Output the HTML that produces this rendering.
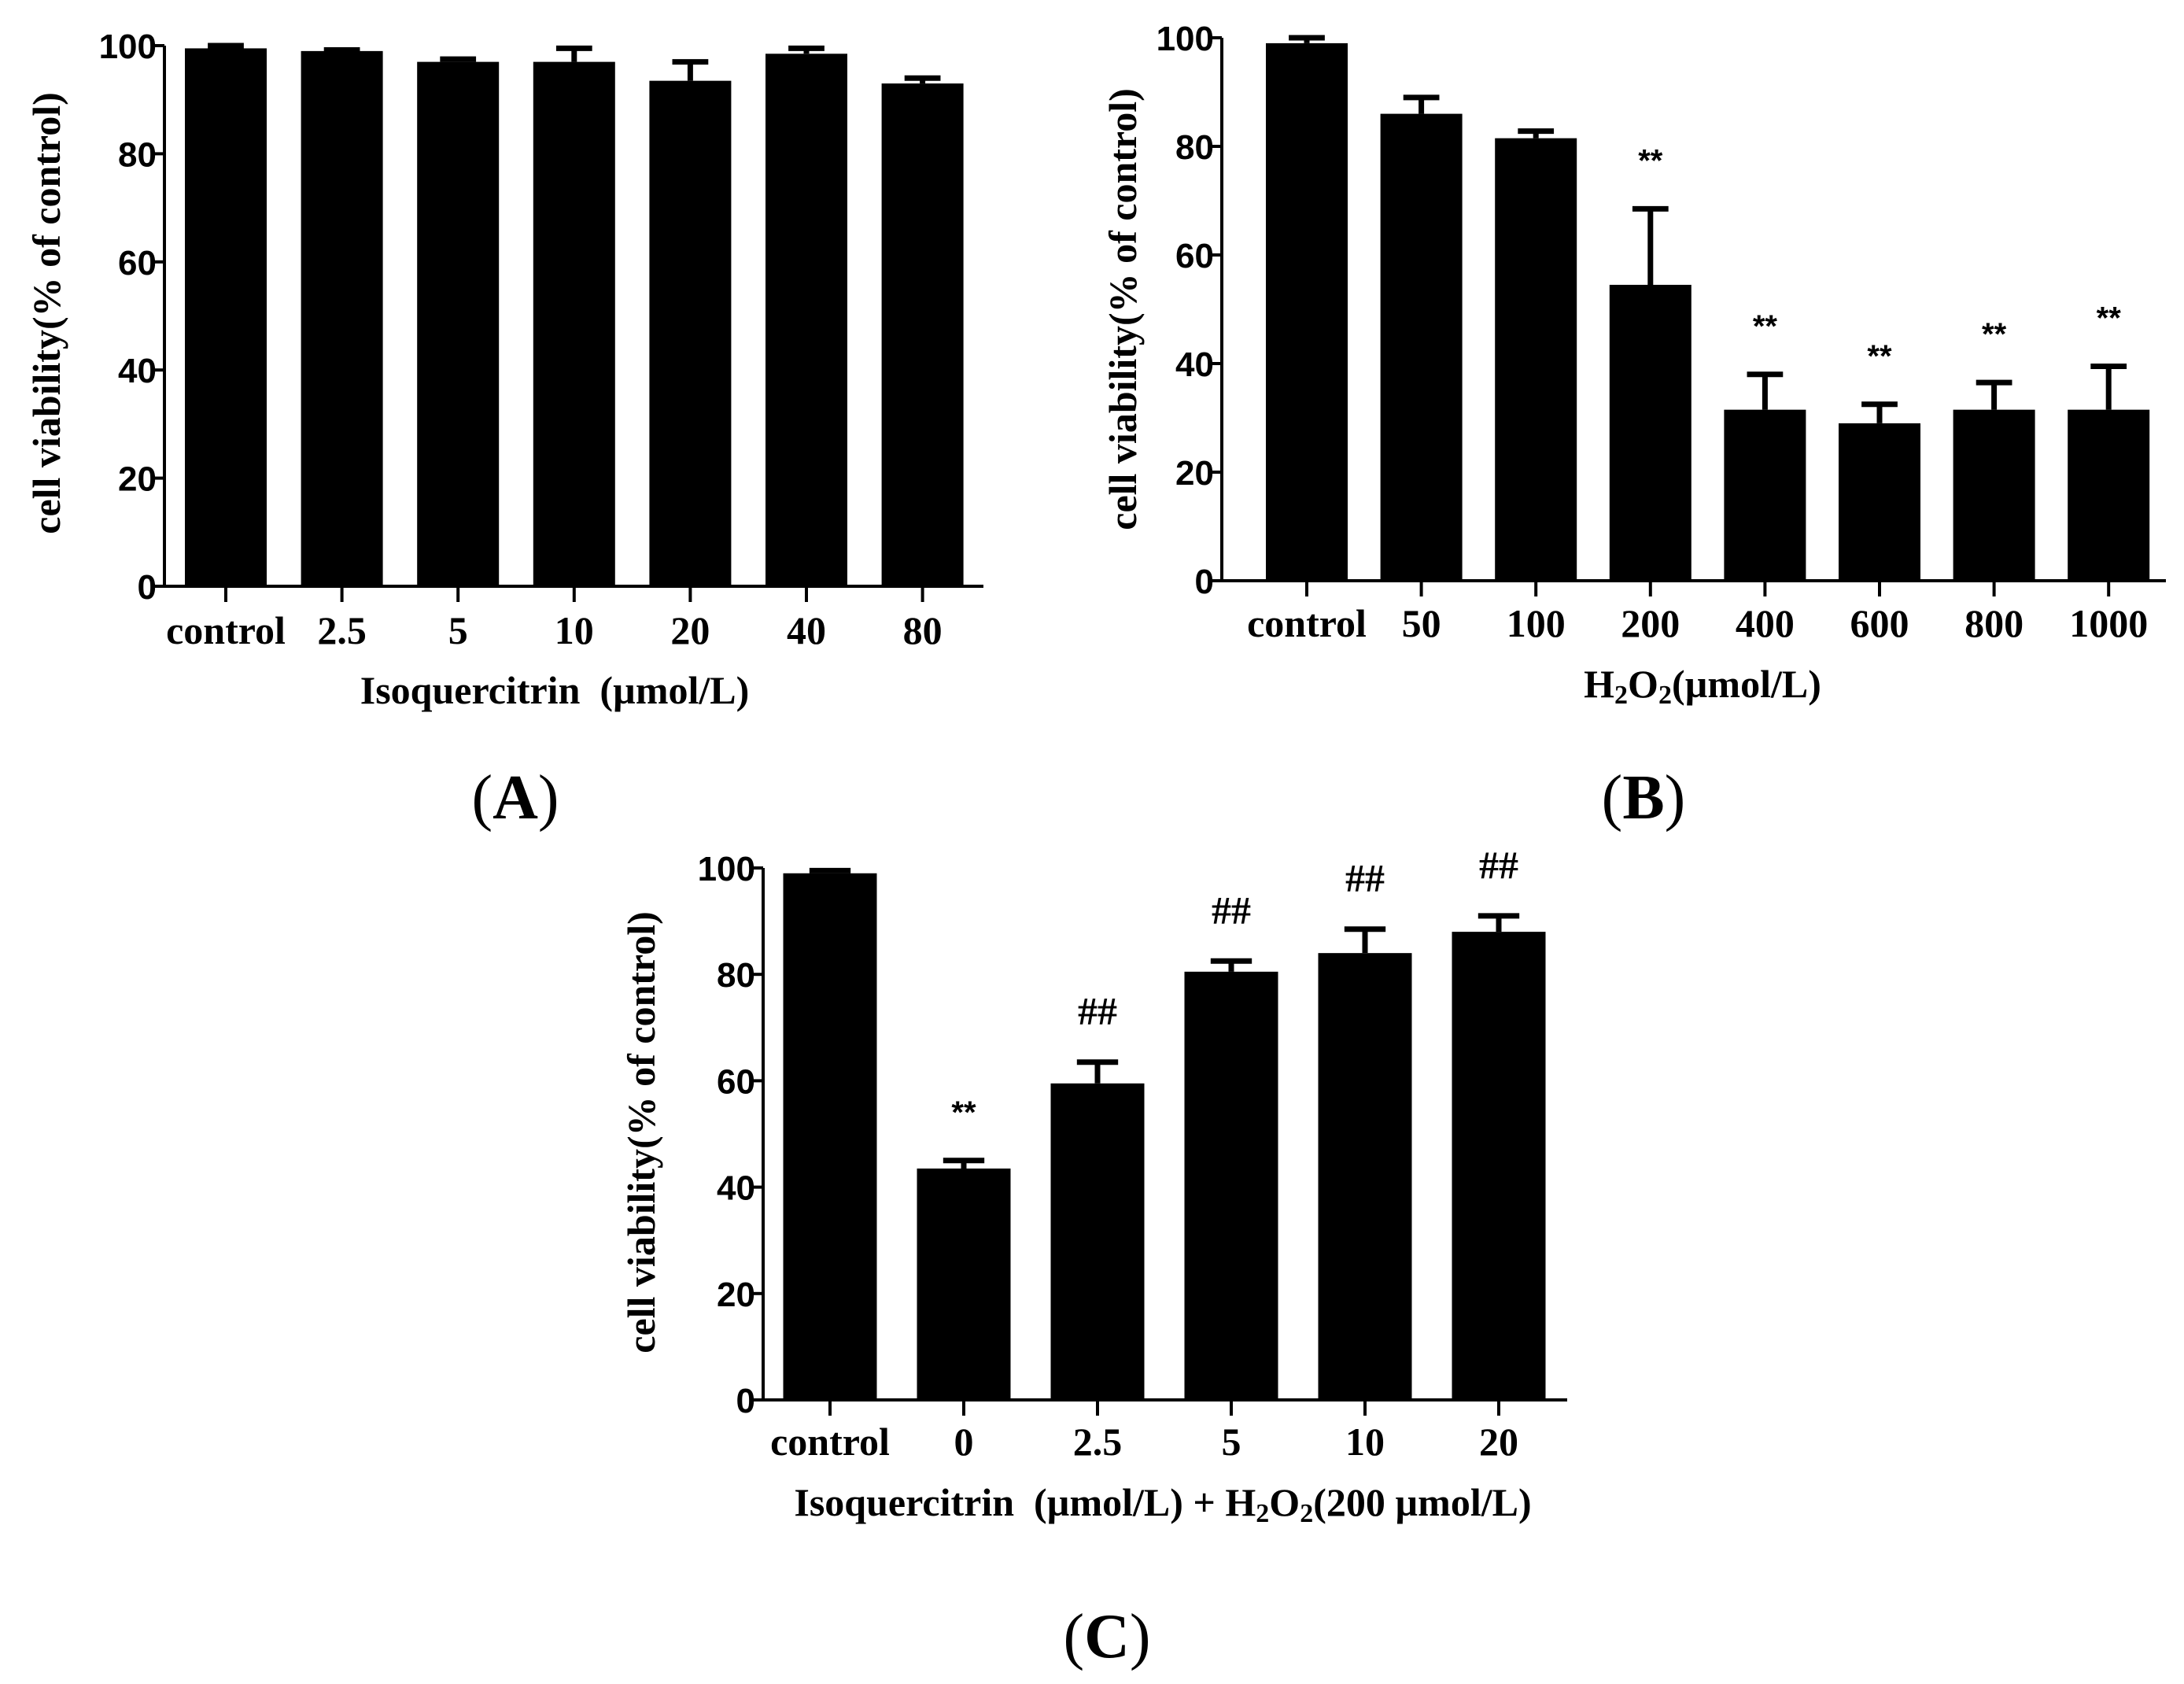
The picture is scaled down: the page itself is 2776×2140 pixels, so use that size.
<!DOCTYPE html>
<html><head><meta charset="utf-8">
<style>
html,body{margin:0;padding:0;background:#fff;}
svg{display:block;}
.tk{font-family:"Liberation Sans",Arial,sans-serif;font-weight:bold;font-size:44px;}
.cat{font-family:"Liberation Serif","Times New Roman",serif;font-weight:bold;font-size:50px;}
.ttl{font-family:"Liberation Serif","Times New Roman",serif;font-weight:bold;font-size:50px;}
.ylab{font-family:"Liberation Serif","Times New Roman",serif;font-weight:bold;font-size:50px;}
.ann{font-family:"Liberation Sans",Arial,sans-serif;font-size:40px;font-weight:bold;}
.pl{font-family:"Liberation Serif","Times New Roman",serif;font-size:80px;}
</style></head>
<body>
<svg id="fig" width="2776" height="2140" viewBox="0 0 2776 2140" xmlns="http://www.w3.org/2000/svg">
<text class="pl" x="655" y="1040" text-anchor="middle">(<tspan font-weight="bold">A</tspan>)</text>
<text class="pl" x="2089" y="1040" text-anchor="middle">(<tspan font-weight="bold">B</tspan>)</text>
<text class="pl" x="1407" y="2106" text-anchor="middle">(<tspan font-weight="bold">C</tspan>)</text>
</svg>
<script>
// Panel A data
const catsA = ["control","2.5","5","10","20","40","80"];
const valsA = [99.5,99,97,97,93.5,98.5,93];
const errA = [100,99.2,97.5,99.5,97,99.5,94];
const annA = ["","","","","","",""];
// Panel B data
const catsB = ["control","50","100","200","400","600","800","1000"];
const valsB = [99,86,81.5,54.5,31.5,29,31.5,31.5];
const errB = [100,89,82.8,68.5,38,32.5,36.5,39.5];
const annB = ["","","","**","**","**","**","**"];
// Panel C data
const catsC = ["control","0","2.5","5","10","20"];
const valsC = [99,43.5,59.5,80.5,84,88];
const errC = [99.5,45,63.5,82.5,88.5,91];
const annC = ["","**","##","##","##","##"];
const yTicks = [0,20,40,60,80,100];

const NS="http://www.w3.org/2000/svg";
const svg=document.getElementById('fig');
function mk(tag,attrs,parent){const e=document.createElementNS(NS,tag);for(const k in attrs)e.setAttribute(k,attrs[k]);(parent||svg).appendChild(e);return e;}

function panel(id,cfg,cats,vals,errs,anns,title){
  const g=mk('g',{});
  
  
  const y=v=>cfg.y0-(v/100)*(cfg.y0-cfg.y100);
  const x=i=>cfg.c0+i*cfg.step;
  // bars
  cats.forEach((c,i)=>{
    const r=mk('rect',{x:x(i)-cfg.bw/2,y:y(vals[i]),width:cfg.bw,height:y(0)-y(vals[i]),fill:'#000'},g);
    
    
    const e=mk('path',{d:`M${x(i)} ${y(vals[i])}V${y(errs[i])}M${x(i)-cfg.bw*0.22} ${y(errs[i])}H${x(i)+cfg.bw*0.22}`,stroke:'#000','stroke-width':7,fill:'none'},g);
    
    
    mk('line',{x1:x(i),x2:x(i),y1:y(0),y2:y(0)+20,stroke:'#000','stroke-width':4},g);
    const t=mk('text',{x:x(i),y:cfg.tickY,'text-anchor':'middle',class:'cat'},g);
    t.textContent=c;
    
    
    if(anns[i]){
      const a=mk('text',{x:x(i),y:y(errs[i])-cfg.annGap,'text-anchor':'middle',class:anns[i]=='##'?'cat':'ann'},g);
      a.textContent=anns[i];
      
      
    }
  });
  // axes
  const ax=mk('path',{d:`M${cfg.ax} ${cfg.y100}V${y(0)}H${cfg.xend}`,stroke:'#000','stroke-width':4,fill:'none'},g);
  
  
  yTicks.forEach(v=>{
    mk('line',{x1:cfg.ax-14,x2:cfg.ax,y1:y(v),y2:y(v),stroke:'#000','stroke-width':4},g);
    const t=mk('text',{x:cfg.ax-10,y:y(v)+16,'text-anchor':'end',class:'tk'},g);
    t.textContent=v;
    
    
  });
  const yl=mk('text',{x:0,y:0,'text-anchor':'middle',class:'ylab',transform:`translate(${cfg.ylx},${cfg.yly}) rotate(-90)`},g);
  yl.textContent='cell viability(% of control)';
  
  
  const xt=mk('text',{x:cfg.tx,y:cfg.ty,'text-anchor':'middle',class:'ttl'},g);
  xt.innerHTML=title;
  
  
}
panel('a',{ax:209,y0:745,y100:58,c0:287,step:147.6,bw:104,xend:1250,tickY:818,annGap:20,ylx:76,yly:398,tx:705,ty:894},
  catsA,valsA,errA,annA,'Isoquercitrin&#160; (µmol/L)');
panel('b',{ax:1553,y0:738,y100:48,c0:1661,step:145.6,bw:104,xend:2753,tickY:809,annGap:48,ylx:1444,yly:393,tx:2164,ty:886},
  catsB,valsB,errB,annB,'H<tspan font-size="34" dy="8">2</tspan><tspan dy="-8">O</tspan><tspan font-size="34" dy="8">2</tspan><tspan dy="-8">(µmol/L)</tspan>');
panel('c',{ax:970,y0:1779,y100:1103,c0:1055,step:170,bw:119,xend:1992,tickY:1849,annGap:48,ylx:832,yly:1439,tx:1478,ty:1926},
  catsC,valsC,errC,annC,'Isoquercitrin&#160; (µmol/L) + H<tspan font-size="34" dy="8">2</tspan><tspan dy="-8">O</tspan><tspan font-size="34" dy="8">2</tspan><tspan dy="-8">(200 µmol/L)</tspan>');
</script>
</body></html>
